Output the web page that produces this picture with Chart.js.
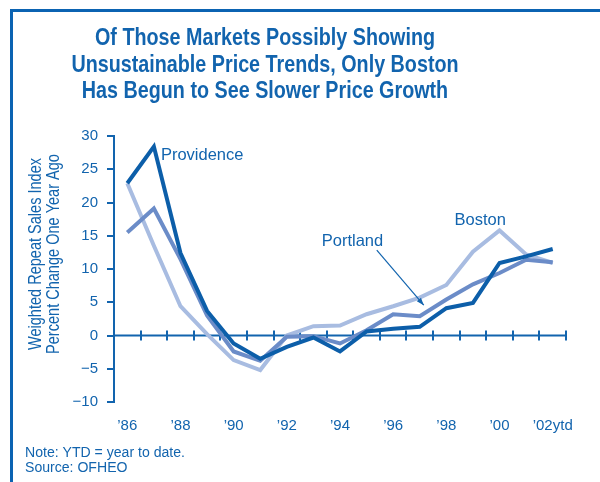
<!DOCTYPE html>
<html>
<head>
<meta charset="utf-8">
<script src="https://cdn.jsdelivr.net/npm/chart.js@4/dist/chart.umd.min.js"></script>
<style>
  html, body { margin: 0; padding: 0; background: #fff; }
  #wrap { width: 600px; height: 482px; position: relative; }
</style>
</head>
<body>
<div id="wrap"><canvas id="chart" width="600" height="482"></canvas></div>
<script>
// Year-over-year % change, weighted repeat sales index (OFHEO)
const years = ['1986', '1987', '1988', '1989', '1990', '1991', '1992', '1993', '1994',
  '1995', '1996', '1997', '1998', '1999', '2000', '2001', '2002'];
const tickLabels = ['\u201986', '', '\u201988', '', '\u201990', '', '\u201992', '', '\u201994',
  '', '\u201996', '', '\u201998', '', '\u201900', '', '\u201902ytd'];
const providence = [22.9, 28.4, 12.4, 3.7, -1.2, -3.5, -1.7, -0.3, -2.4, 0.6, 1.0, 1.3, 4.1, 4.9, 10.9, 11.9, 13.0];
const portland = [15.5, 19.1, 11.5, 3.0, -2.4, -3.8, -0.2, -0.1, -1.2, 0.8, 3.2, 2.9, 5.4, 7.7, 9.4, 11.4, 11.0];
const boston = [22.9, 13.5, 4.4, 0.2, -3.7, -5.2, 0.0, 1.4, 1.5, 3.2, 4.4, 5.7, 7.6, 12.6, 15.8, 12.2, 10.9];

const titleLines = [
  'Of Those Markets Possibly Showing',
  'Unsustainable Price Trends, Only Boston',
  'Has Begun to See Slower Price Growth'
];
const yTitleLines = ['Weighted Repeat Sales Index', 'Percent Change One Year Ago'];
const noteLines = ['Note: YTD = year to date.', 'Source: OFHEO'];

const BLUE = '#1264ae';
const FONT = "'Liberation Sans', Arial, sans-serif";

// draw text squeezed horizontally to mimic the condensed face
function squeezed(ctx, text, x, y, sx, align) {
  ctx.save();
  ctx.translate(x, y);
  ctx.scale(sx, 1);
  ctx.textAlign = align || 'left';
  ctx.fillText(text, 0, 0);
  ctx.restore();
}

const decorations = {
  id: 'decorations',
  beforeDraw(chart) {
    const ctx = chart.ctx;
    ctx.save();
    // frame (top and left only)
    ctx.fillStyle = '#0b63b2';
    ctx.fillRect(10, 9, 590, 3);
    ctx.fillRect(10, 9, 3, 473);

    // title
    ctx.fillStyle = BLUE;
    ctx.textBaseline = 'alphabetic';
    ctx.font = 'bold 24px ' + FONT;
    const sx = 340 / ctx.measureText(titleLines[0]).width;
    const baselines = [45, 72, 98];
    titleLines.forEach((line, i) => squeezed(ctx, line, 265, baselines[i], sx, 'center'));

    // y axis title, rotated
    ctx.font = '18px ' + FONT;
    const ysx = 192 / ctx.measureText(yTitleLines[0]).width;
    ctx.translate(0, 254);
    ctx.rotate(-Math.PI / 2);
    squeezed(ctx, yTitleLines[0], 0, 41, ysx, 'center');
    squeezed(ctx, yTitleLines[1], 0, 59, ysx, 'center');
    ctx.restore();

    // notes
    ctx.save();
    ctx.fillStyle = BLUE;
    ctx.font = '14px ' + FONT;
    ctx.textBaseline = 'alphabetic';
    const nsx = 160 / ctx.measureText(noteLines[0]).width;
    squeezed(ctx, noteLines[0], 25, 457, nsx);
    squeezed(ctx, noteLines[1], 25, 472, nsx);
    ctx.restore();
  },
  beforeDatasetsDraw(chart) {
    const { ctx, chartArea, scales: { x, y } } = chart;
    const y0 = y.getPixelForValue(0);
    const half = (x.getPixelForValue(1) - x.getPixelForValue(0)) / 2;
    ctx.save();
    ctx.strokeStyle = BLUE;
    ctx.lineWidth = 2;
    ctx.beginPath();
    ctx.moveTo(chartArea.left, y0);
    ctx.lineTo(chartArea.right, y0);
    years.forEach((_, i) => {
      const px = Math.round(x.getPixelForValue(i) + half);
      ctx.moveTo(px, y0 - 5);
      ctx.lineTo(px, y0 + 5);
    });
    ctx.stroke();
    ctx.restore();
  },
  afterDatasetsDraw(chart) {
    const { ctx, scales: { x, y } } = chart;
    ctx.save();
    ctx.fillStyle = BLUE;
    ctx.font = '16.5px ' + FONT;
    ctx.textBaseline = 'alphabetic';

    // Providence, next to its 1987 peak
    const p = [x.getPixelForValue(1), y.getPixelForValue(providence[1])];
    ctx.fillText('Providence', p[0] + 7, p[1] + 13);

    // Boston, above its 2000 peak
    const b = [x.getPixelForValue(14), y.getPixelForValue(boston[14])];
    ctx.fillText('Boston', b[0] - 45, b[1] - 5);

    // Portland with arrow to its 1997 point
    const q = [x.getPixelForValue(11), y.getPixelForValue(portland[11])];
    ctx.fillText('Portland', q[0] - 98, q[1] - 70);
    const sx0 = q[0] - 43, sy0 = q[1] - 66, ex = q[0] + 4, ey = q[1] - 11;
    ctx.strokeStyle = BLUE;
    ctx.lineWidth = 1.2;
    ctx.beginPath();
    ctx.moveTo(sx0, sy0);
    ctx.lineTo(ex, ey);
    ctx.stroke();
    const ang = Math.atan2(ey - sy0, ex - sx0);
    ctx.beginPath();
    ctx.moveTo(ex, ey);
    ctx.lineTo(ex - 8 * Math.cos(ang - 0.35), ey - 8 * Math.sin(ang - 0.35));
    ctx.lineTo(ex - 8 * Math.cos(ang + 0.35), ey - 8 * Math.sin(ang + 0.35));
    ctx.closePath();
    ctx.fill();
    ctx.restore();
  }
};

const lineStyle = {
  borderWidth: 4,
  pointRadius: 0,
  tension: 0,
  fill: false,
  borderJoinStyle: 'miter',
  borderCapStyle: 'butt'
};

new Chart(document.getElementById('chart'), {
  type: 'line',
  data: {
    labels: years,
    datasets: [
      { label: 'Providence', data: providence, borderColor: '#0c5ea9', ...lineStyle },
      { label: 'Portland', data: portland, borderColor: '#6b8cc8', ...lineStyle },
      { label: 'Boston', data: boston, borderColor: '#a8bce1', ...lineStyle }
    ]
  },
  options: {
    responsive: false,
    animation: false,
    layout: { padding: { left: 0, right: 34, top: 136, bottom: 40 } },
    scales: {
      x: {
        offset: true,
        grid: { display: false, drawTicks: false },
        border: { display: false },
        afterFit: s => { s.height = 40; },
        ticks: {
          autoSkip: false,
          maxRotation: 0,
          padding: 15,
          color: BLUE,
          font: { family: FONT, size: 15 },
          callback: (v, i) => tickLabels[i]
        }
      },
      y: {
        min: -10,
        max: 30,
        afterFit: s => { s.width = 114; },
        border: { display: true, color: BLUE, width: 2 },
        grid: { drawOnChartArea: false, tickLength: 7, color: BLUE, lineWidth: 2 },
        ticks: {
          stepSize: 5,
          padding: 9,
          color: BLUE,
          font: { family: FONT, size: 15 },
          callback: v => (v < 0 ? '\u2212' + Math.abs(v) : String(v))
        }
      }
    },
    plugins: {
      legend: { display: false },
      tooltip: { enabled: false },
      title: { display: false }
    }
  },
  plugins: [decorations]
});
</script>
</body>
</html>
